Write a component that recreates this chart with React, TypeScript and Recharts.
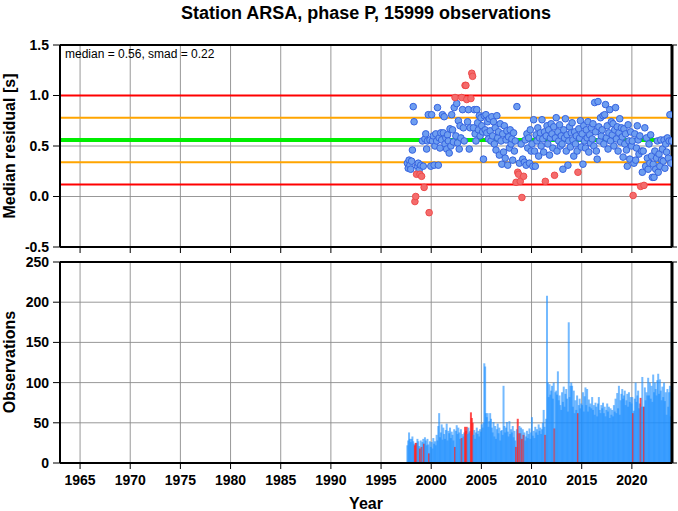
import {
  ScatterChart,
  Scatter,
  ComposedChart,
  Bar,
  XAxis,
  YAxis,
  CartesianGrid,
  ReferenceLine
} from "recharts"

// axis ticks
const yearTicks = [1965, 1970, 1975, 1980, 1985, 1990, 1995, 2000, 2005, 2010, 2015, 2020]
const residualTicks = [-0.5, 0, 0.5, 1, 1.5]
const countTicks = [0, 50, 100, 150, 200, 250]

// station statistics
const median = 0.56
const smad = 0.22

// monthly median residuals [s], starting Aug 1997 (one row per year)
const residuals = [
  0.33, 0.28, 0.36, 0.31, 0.27,
  0.35, 0.46, 0.89, 0.74, -0.05, 0.0, 0.22, 0.3, 0.33, 0.26, 0.22, 0.31,
  0.2, 0.55, 0.3, 0.09, 0.57, 0.62, 0.47, 0.55, 0.81, -0.16, 0.56, 0.3,
  0.81, 0.55, 0.6, 0.31, 0.5, 0.62, 0.55, 0.88, 0.31, 0.58, 0.48, 0.63,
  0.56, 0.81, 0.63, 0.79, 0.52, 0.58, 0.47, 0.61, 0.55, 0.43, 0.67, 0.5,
  0.81, 0.66, 0.54, 0.88, 0.98, 0.6, 0.92, 0.53, 0.75, 0.47, 0.7, 0.58,
  0.98, 0.86, 0.68, 0.55, 1.1, 1.1, 0.96, 0.74, 0.86, 0.47, 0.68, 0.97,
  1.22, 1.19, 0.68, 0.86, 0.62, 0.55, 0.86, 0.73, 0.66, 0.8, 0.6, 0.78,
  0.7, 0.64, 0.37, 0.8, 0.66, 0.81, 0.63, 0.74, 0.57, 0.77, 0.65, 0.55,
  0.79, 0.6, 0.74, 0.52, 0.68, 0.46, 0.8, 0.58, 0.64, 0.41, 0.72, 0.55,
  0.32, 0.62, 0.44, 0.7, 0.38, 0.56, 0.65, 0.31, 0.59, 0.48, 0.66, 0.52,
  0.57, 0.36, 0.63, 0.45, 0.55, 0.14, 0.89, 0.24, 0.22, 0.33, 0.15, 0.52,
  -0.01, 0.37, 0.2, 0.34, 0.56, 0.31, 0.62, 0.48, 0.58, 0.33, 0.66, 0.45,
  0.52, 0.3, 0.76, 0.45, 0.3, 0.61, 0.55, 0.68, 0.4, 0.58, 0.63, 0.5,
  0.76, 0.57, 0.44, 0.64, 0.15, 0.6, 0.7, 0.52, 0.66, 0.41, 0.58, 0.72,
  0.62, 0.48, 0.69, 0.21, 0.58, 0.78, 0.45, 0.64, 0.55, 0.71, 0.5, 0.6,
  0.52, 0.27, 0.66, 0.58, 0.77, 0.45, 0.61, 0.31, 0.55, 0.69, 0.49, 0.63,
  0.73, 0.56, 0.4, 0.64, 0.52, 0.6, 0.45, 0.24, 0.67, 0.58, 0.75, 0.49,
  0.62, 0.32, 0.7, 0.55, 0.48, 0.66, 0.58, 0.74, 0.44, 0.61, 0.53, 0.68,
  0.57, 0.72, 0.5, 0.93, 0.64, 0.45, 0.37, 0.94, 0.69, 0.55, 0.78, 0.6,
  0.66, 0.8, 0.52, 0.81, 0.91, 0.58, 0.7, 0.47, 0.63, 0.86, 0.55, 0.74,
  0.61, 0.72, 0.5, 0.66, 0.88, 0.57, 0.69, 0.45, 0.63, 0.77, 0.54, 0.68,
  0.59, 0.39, 0.67, 0.52, 0.62, 0.46, 0.3, 0.71, 0.55, 0.37, 0.64, 0.5,
  0.55, 0.01, 0.33, 0.62, 0.36, 0.48, 0.7, 0.56, 0.42, 0.6, 0.1, 0.45,
  0.24, 0.45, 0.11, 0.68, 0.3, 0.58, 0.38, 0.27, 0.52, 0.33, 0.61, 0.4,
  0.19, 0.32, 0.19, 0.45, 0.27, 0.38, 0.55, 0.24, 0.42, 0.3, 0.56, 0.36,
  0.47, 0.35, 0.56, 0.28, 0.52, 0.44, 0.58, 0.38, 0.55, 0.81, 0.33, 0.55
]

// monthly number of observations, same months
const counts = [
  22, 28, 38, 30, 26,
  30, 33, 27, 24, 22, 25, 25, 30, 27, 21, 18, 28,
  20, 26, 30, 24, 32, 28, 22, 30, 23, 12, 27, 20,
  26, 18, 31, 24, 27, 22, 35, 28, 46, 62, 32, 38,
  48, 29, 44, 36, 30, 41, 49, 28, 40, 37, 44, 31,
  39, 35, 28, 42, 20, 40, 47, 36, 44, 38, 30, 42,
  31, 36, 33, 38, 45, 40, 45, 36, 44, 38, 40, 63,
  56, 50, 35, 41, 30, 38, 44, 36, 40, 33, 42, 39,
  48, 44, 50, 124, 120, 62, 57, 62, 45, 52, 62, 55,
  44, 38, 51, 33, 46, 30, 42, 49, 37, 44, 28, 40,
  41, 35, 96, 46, 38, 44, 51, 39, 33, 52, 36, 42,
  38, 46, 32, 40, 28, 20, 42, 55, 37, 46, 37, 44,
  30, 42, 35, 38, 28, 33, 40, 31, 36, 43, 30, 38,
  57, 34, 40, 31, 45, 38, 42, 35, 48, 40, 44, 36,
  42, 50, 66, 45, 35, 55, 208, 100, 82, 98, 85, 90,
  96, 80, 100, 43, 88, 90, 85, 114, 78, 84, 72, 66,
  88, 76, 95, 70, 86, 92, 80, 64, 175, 82, 96, 100,
  96, 70, 90, 62, 78, 66, 84, 62, 72, 80, 68, 74,
  72, 88, 64, 83, 94, 72, 92, 64, 79, 70, 74, 68,
  82, 66, 72, 60, 75, 70, 58, 74, 82, 66, 62, 72,
  68, 75, 62, 70, 58, 66, 74, 64, 70, 56, 68, 60,
  66, 58, 72, 64, 80, 62, 87, 68, 96, 60, 78, 86,
  92, 80, 84, 90, 72, 78, 86, 70, 88, 76, 82, 74,
  82, 62, 65, 80, 100, 76, 84, 90, 68, 74, 81, 70,
  107, 70, 70, 94, 78, 88, 84, 106, 84, 100, 80, 96,
  76, 110, 88, 100, 92, 84, 103, 111, 86, 104, 90, 78,
  95, 82, 100, 77, 88, 60, 92, 70, 88, 96, 58, 88
]

// months drawn in red
const flaggedMonths = [
  "1998-05", "1998-06", "1998-07", "1998-11", "1999-01", "1999-04", "1999-10",
  "2002-05", "2003-01", "2003-05", "2003-06", "2003-07", "2003-12", "2004-01", "2004-02",
  "2008-06", "2008-08", "2008-09", "2008-11", "2009-01", "2009-03",
  "2011-05", "2012-04", "2014-08", "2020-02", "2020-11", "2021-03"
]

const FONT = "'Liberation Sans', Arial, Helvetica, sans-serif"

const rows = residuals.map((r, i) => {
  const m = 7 + i
  const year = 1997 + Math.floor(m / 12)
  const month = m % 12
  const key = `${year}-${String(month + 1).padStart(2, "0")}`
  return {
    x: year + (month + 0.5) / 12,
    y: r,
    n: counts[i],
    flag: flaggedMonths.includes(key)
  }
})
const bluePoints = rows.filter(d => !d.flag)
const redPoints = rows.filter(d => d.flag)

const axisLine = { stroke: "#000", strokeWidth: 2 }
const tickLine = { stroke: "#000", strokeWidth: 1 }
const tickStyle = { fill: "#000", fontSize: 14, fontWeight: "bold", fontFamily: FONT }
const noLabel = () => ""

const BlueDot = (p: any) => (
  <circle cx={p.cx} cy={p.cy} r={3.3} fill="#6e9ef0" stroke="#3563e0" strokeWidth={1} />
)
const RedDot = (p: any) => (
  <circle cx={p.cx} cy={p.cy} r={3.3} fill="#f46c6c" stroke="#ee4b4b" strokeWidth={1} />
)

const CountBar = (p: any) => {
  if (!p.height || p.height <= 0) return null
  const cx = p.x + p.width / 2
  const red = p.payload && p.payload.flag
  return (
    <rect
      x={cx - 1}
      y={p.y}
      width={2}
      height={p.height}
      fill={red ? "#ff2020" : "#1e90ff"}
      fillOpacity={red ? 0.8 : 0.62}
    />
  )
}

export default function App() {
  return (
    <div
      style={{
        position: "absolute",
        left: 0,
        top: 0,
        width: 678,
        height: 511,
        background: "#fff",
        overflow: "hidden"
      }}
    >
      {/* residual panel */}
      <div style={{ position: "absolute", left: 0, top: 0 }}>
        <ScatterChart width={678} height={260} margin={{ top: 39, right: 0, bottom: 0, left: 0 }}>
          <CartesianGrid stroke="#8c8c8c" strokeWidth={0.9} />
          <XAxis
            type="number"
            dataKey="x"
            domain={[1963, 2024]}
            ticks={yearTicks}
            interval={0}
            allowDataOverflow
            height={13}
            tickSize={6}
            tickFormatter={noLabel}
            axisLine={axisLine}
            tickLine={tickLine}
          />
          <XAxis
            xAxisId="top"
            orientation="top"
            type="number"
            domain={[1963, 2024]}
            ticks={yearTicks}
            interval={0}
            allowDataOverflow
            height={6}
            tickSize={6}
            tickFormatter={noLabel}
            axisLine={axisLine}
            tickLine={tickLine}
          />
          <YAxis
            type="number"
            dataKey="y"
            domain={[-0.5, 1.5]}
            ticks={residualTicks}
            interval={0}
            allowDataOverflow
            width={60}
            tickSize={7}
            tickMargin={4}
            tickFormatter={(v: number) => v.toFixed(1)}
            tick={tickStyle}
            axisLine={axisLine}
            tickLine={tickLine}
          />
          <YAxis
            yAxisId="right"
            orientation="right"
            type="number"
            domain={[-0.5, 1.5]}
            ticks={residualTicks}
            interval={0}
            allowDataOverflow
            width={6}
            tickSize={5}
            tickFormatter={noLabel}
            axisLine={{ stroke: "#000", strokeWidth: 3 }}
            tickLine={tickLine}
          />
          <ReferenceLine y={median + 2 * smad} stroke="#ff0000" strokeWidth={2} />
          <ReferenceLine y={median - 2 * smad} stroke="#ff0000" strokeWidth={2} />
          <ReferenceLine y={median + smad} stroke="#ffa500" strokeWidth={2} />
          <ReferenceLine y={median - smad} stroke="#ffa500" strokeWidth={2} />
          <ReferenceLine y={median} stroke="#00ee00" strokeWidth={4} />
          <Scatter data={bluePoints} shape={BlueDot} isAnimationActive={false} />
          <Scatter data={redPoints} shape={RedDot} isAnimationActive={false} />
        </ScatterChart>
      </div>

      {/* observation count panel */}
      <div style={{ position: "absolute", left: 0, top: 250 }}>
        <ComposedChart
          width={678}
          height={261}
          data={rows}
          margin={{ top: 6, right: 0, bottom: 0, left: 0 }}
        >
          <CartesianGrid stroke="#8c8c8c" strokeWidth={0.9} />
          <XAxis
            type="number"
            dataKey="x"
            domain={[1963, 2024]}
            ticks={yearTicks}
            interval={0}
            allowDataOverflow
            height={48}
            tickSize={6}
            tickMargin={6}
            tick={tickStyle}
            axisLine={axisLine}
            tickLine={tickLine}
          />
          <XAxis
            xAxisId="top"
            orientation="top"
            type="number"
            domain={[1963, 2024]}
            ticks={yearTicks}
            interval={0}
            allowDataOverflow
            height={6}
            tickSize={6}
            tickFormatter={noLabel}
            axisLine={axisLine}
            tickLine={tickLine}
          />
          <YAxis
            type="number"
            domain={[0, 250]}
            ticks={countTicks}
            interval={0}
            allowDataOverflow
            width={60}
            tickSize={7}
            tickMargin={4}
            tick={tickStyle}
            axisLine={axisLine}
            tickLine={tickLine}
          />
          <YAxis
            yAxisId="right"
            orientation="right"
            type="number"
            domain={[0, 250]}
            ticks={countTicks}
            interval={0}
            allowDataOverflow
            width={6}
            tickSize={5}
            tickFormatter={noLabel}
            axisLine={{ stroke: "#000", strokeWidth: 3 }}
            tickLine={tickLine}
          />
          <Bar dataKey="n" shape={CountBar} isAnimationActive={false} />
        </ComposedChart>
      </div>

      {/* titles and labels */}
      <svg
        width={678}
        height={511}
        style={{ position: "absolute", left: 0, top: 0, pointerEvents: "none" }}
        fontFamily={FONT}
      >
        <text x={366} y={19} textAnchor="middle" fontSize={18} fontWeight="bold">
          Station ARSA, phase P, 15999 observations
        </text>
        <text x={65} y={58} fontSize={12}>
          median = 0.56, smad = 0.22
        </text>
        <text transform="translate(15,146) rotate(-90)" textAnchor="middle" fontSize={16} fontWeight="bold">
          Median residual [s]
        </text>
        <text transform="translate(15,362) rotate(-90)" textAnchor="middle" fontSize={16} fontWeight="bold">
          Observations
        </text>
        <text x={366} y={509} textAnchor="middle" fontSize={16} fontWeight="bold">
          Year
        </text>
      </svg>
    </div>
  )
}
